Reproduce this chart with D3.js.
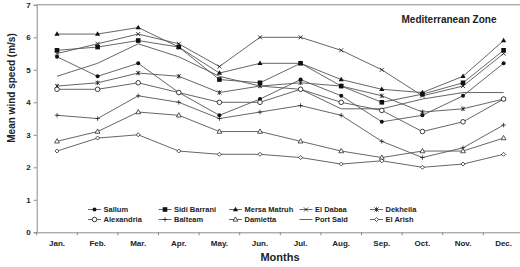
<!DOCTYPE html>
<html><head><meta charset="utf-8">
<script src="https://cdn.jsdelivr.net/npm/d3@7/dist/d3.min.js"></script>
<style>body{margin:0;background:#fff}svg{display:block}text{font-family:"Liberation Sans",Arial,sans-serif;font-weight:bold}</style>
</head><body><svg id="c" width="520" height="267"></svg>
<script>
const months = ["Jan.","Feb.","Mar.","Apr.","May.","Jun.","Jul.","Aug.","Sep.","Oct.","Nov.","Dec."];
const yTicks = [0,1,2,3,4,5,6,7];
const stations = ["Sallum","Sidi Barrani","Mersa Matruh","El Dabaa","Dekheila","Alexandria","Balteam","Damietta","Port Said","El Arish"];
const sallum      = [5.4,4.8,5.2,4.3,3.6,4.1,4.7,4.2,3.4,3.6,4.2,5.2];
const sidiBarrani = [5.6,5.7,5.9,5.7,4.7,4.6,5.2,4.5,4.0,4.25,4.6,5.6];
const mersaMatruh = [6.1,6.1,6.3,5.7,4.9,5.2,5.2,4.7,4.4,4.3,4.8,5.9];
const elDabaa     = [5.5,5.8,6.1,5.8,5.1,6.0,6.0,5.6,5.0,4.2,4.5,5.5];
const dekheila    = [4.5,4.6,4.9,4.8,4.3,4.5,4.6,4.5,4.2,3.7,3.8,4.1];
const alexandria  = [4.4,4.4,4.6,4.3,4.0,4.0,4.4,4.0,3.75,3.1,3.4,4.1];
const balteam     = [3.6,3.5,4.2,4.0,3.5,3.7,3.9,3.6,2.8,2.3,2.6,3.3];
const damietta    = [2.8,3.1,3.7,3.6,3.1,3.1,2.8,2.5,2.3,2.5,2.5,2.9];
const portSaid    = [4.8,5.2,5.8,5.4,4.8,4.5,4.4,3.8,3.8,4.1,4.3,4.3];
const elArish     = [2.5,2.9,3.0,2.5,2.4,2.4,2.3,2.1,2.2,2.0,2.1,2.4];
const seriesValues = [sallum,sidiBarrani,mersaMatruh,elDabaa,dekheila,alexandria,balteam,damietta,portSaid,elArish];
const markers = ["fcircle","fsquare","ftriangle","cross","star","ocircle","plus","otriangle","none","odiamond"];

const svg = d3.select("#c");
const x = d3.scaleBand().domain(months).range([36.7, 36.7 + 12*40.6]);
const y = d3.scaleLinear().domain([0,7]).range([232.3, 4.8]);
const axisCol = "#8a8a8a";

svg.append("line").attr("x1",x.range()[0]).attr("x2",x.range()[1]).attr("y1",y(7)).attr("y2",y(7))
  .attr("stroke",axisCol).attr("stroke-width",1);

const ya = svg.append("g").attr("transform",`translate(${x.range()[0]},0)`)
  .call(d3.axisLeft(y).tickValues(yTicks).tickSize(3).tickFormat(d3.format("d")));
ya.select(".domain").attr("stroke",axisCol);
ya.selectAll(".tick line").attr("stroke",axisCol);
ya.selectAll("text").attr("font-size",8).attr("fill","#222").attr("x",-6);

const xa = svg.append("g").attr("transform",`translate(0,${y(0)})`)
  .call(d3.axisBottom(x).tickSize(0).tickPadding(8));
xa.select(".domain").attr("stroke",axisCol);
xa.selectAll("text").attr("font-size",8).attr("fill","#222");
months.forEach(m=>{
  svg.append("line").attr("x1",x(m)).attr("x2",x(m)).attr("y1",y(0)).attr("y2",y(0)+3).attr("stroke",axisCol);
});

svg.append("text").attr("x",280).attr("y",261).attr("text-anchor","middle").attr("font-size",11).attr("fill","#222").text("Months");
svg.append("text").attr("transform","translate(14.5,88) rotate(-90)").attr("text-anchor","middle").attr("font-size",10).attr("fill","#222").text("Mean wind speed (m/s)");
svg.append("text").attr("x",449).attr("y",23).attr("text-anchor","middle").attr("font-size",10).attr("fill","#222").text("Mediterranean Zone");

function drawMarker(g, type, cx, cy){
  const c="#111";
  switch(type){
    case "fcircle": g.append("circle").attr("cx",cx).attr("cy",cy).attr("r",2).attr("fill",c); break;
    case "ocircle": g.append("circle").attr("cx",cx).attr("cy",cy).attr("r",2.3).attr("fill","#fff").attr("stroke",c).attr("stroke-width",0.8); break;
    case "fsquare": g.append("rect").attr("x",cx-2.3).attr("y",cy-2.3).attr("width",4.6).attr("height",4.6).attr("fill",c); break;
    case "ftriangle": g.append("path").attr("d",`M${cx},${cy-2.8}L${cx+2.6},${cy+1.8}L${cx-2.6},${cy+1.8}Z`).attr("fill",c); break;
    case "otriangle": g.append("path").attr("d",`M${cx},${cy-2.6}L${cx+2.4},${cy+1.7}L${cx-2.4},${cy+1.7}Z`).attr("fill","#fff").attr("stroke",c).attr("stroke-width",0.7); break;
    case "odiamond": g.append("path").attr("d",`M${cx},${cy-2}L${cx+2},${cy}L${cx},${cy+2}L${cx-2},${cy}Z`).attr("fill","#fff").attr("stroke",c).attr("stroke-width",0.7); break;
    case "cross": g.append("path").attr("d",`M${cx-2},${cy-2}L${cx+2},${cy+2}M${cx-2},${cy+2}L${cx+2},${cy-2}`).attr("stroke",c).attr("stroke-width",0.8); break;
    case "star": g.append("path").attr("d",`M${cx-2},${cy-2}L${cx+2},${cy+2}M${cx-2},${cy+2}L${cx+2},${cy-2}M${cx},${cy-2.3}L${cx},${cy+2.3}`).attr("stroke",c).attr("stroke-width",0.8); break;
    case "plus": g.append("path").attr("d",`M${cx-2.3},${cy}L${cx+2.3},${cy}M${cx},${cy-2.3}L${cx},${cy+2.3}`).attr("stroke",c).attr("stroke-width",0.7); break;
  }
}

const line = d3.line().x((d,i)=>x(months[i])+x.bandwidth()/2).y(d=>y(d));
const plot = svg.append("g");
seriesValues.forEach((vals,k)=>{
  plot.append("path").attr("d",line(vals)).attr("fill","none").attr("stroke","#555").attr("stroke-width",0.9);
});
seriesValues.forEach((vals,k)=>{
  const g = plot.append("g");
  vals.forEach((v,i)=>drawMarker(g, markers[k], x(months[i])+x.bandwidth()/2, y(v)));
});

const leg = svg.append("g");
stations.forEach((s,k)=>{
  const col = k%5, row = Math.floor(k/5);
  const lx = 88 + col*70.5, ly = 209.5 + row*10;
  leg.append("line").attr("x1",lx).attr("x2",lx+13).attr("y1",ly).attr("y2",ly).attr("stroke","#555").attr("stroke-width",0.9);
  drawMarker(leg, markers[k], lx+6.5, ly);
  leg.append("text").attr("x",lx+15.5).attr("y",ly+2.6).attr("font-size",7.5).attr("fill","#222").text(s);
});
</script></body></html>
